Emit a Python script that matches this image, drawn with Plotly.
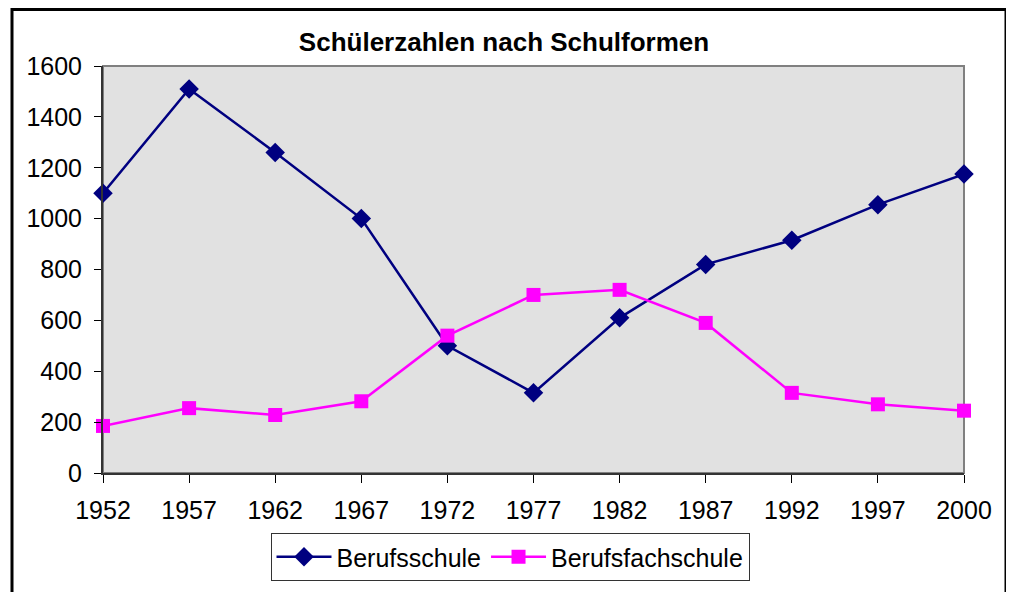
import plotly.graph_objects as go

years = ["1952", "1957", "1962", "1967", "1972", "1977", "1982", "1987", "1992", "1997", "2000"]
berufsschule = [1100, 1510, 1260, 1000, 500, 315, 610, 820, 915, 1055, 1175]
berufsfachschule = [185, 255, 228, 282, 540, 700, 720, 590, 315, 270, 245]

# page has 8px body margin; work in figure coords = page coords - 8
OFF = 8
W, H = 1006, 584
L, R, T, B = 103 - OFF, 964 - OFF, 66 - OFF, 473 - OFF

fig = go.Figure()
fig.add_trace(go.Scatter(
    x=years, y=berufsschule, name="Berufsschule", mode="lines+markers",
    line=dict(color="#000080", width=2.5),
    marker=dict(symbol="diamond", size=15, color="#000080"),
    cliponaxis=False,
))
fig.add_trace(go.Scatter(
    x=years, y=berufsfachschule, name="Berufsfachschule", mode="lines+markers",
    line=dict(color="#FF00FF", width=2.5),
    marker=dict(symbol="square", size=14, color="#FF00FF"),
    cliponaxis=False,
))

def px_x(p):
    return (p - OFF - L) / (R - L)

def px_y(p):
    return (B - (p - OFF)) / (B - T)

fig.update_layout(
    width=W, height=H,
    margin=dict(l=L, r=W - R, t=T, b=H - B, pad=0, autoexpand=False),
    paper_bgcolor="white",
    plot_bgcolor="#E1E1E1",
    font=dict(family="Liberation Sans, Arial, sans-serif", size=25, color="black"),
    title=dict(text="<b>Schülerzahlen nach Schulformen</b>", x=(504 - OFF) / W, xanchor="center",
               y=1 - (42 - OFF) / H, yanchor="middle", font=dict(size=26)),
    showlegend=True,
    legend=dict(orientation="h", x=px_x(510), xanchor="center",
                yref="container", y=1 - (533 - OFF) / H, yanchor="top",
                bordercolor="#333333", borderwidth=1, bgcolor="white",
                font=dict(size=25), itemwidth=55, tracegroupgap=0),
    xaxis=dict(type="category", range=[0, 10], showgrid=False, zeroline=False,
               showline=True, linecolor="#333333", linewidth=2, automargin=False,
               ticks="outside", ticklen=8, tickcolor="black", tickwidth=1,
               ticklabelstandoff=6, fixedrange=True),
    yaxis=dict(range=[0, 1600], dtick=200, showgrid=False, zeroline=False,
               showline=True, linecolor="#333333", linewidth=2, automargin=False,
               ticks="outside", ticklen=7, tickcolor="black", tickwidth=1,
               ticklabelstandoff=7, fixedrange=True),
    shapes=[
        dict(type="rect", xref="paper", yref="paper", x0=0, x1=1, y0=0, y1=1,
             line=dict(color="#808080", width=2), layer="below"),
        dict(type="rect", xref="paper", yref="paper",
             x0=px_x(12), x1=px_x(1006), y0=px_y(640), y1=px_y(9.5),
             line=dict(color="black", width=3)),
    ],
)

fig.write_html("out.html")
